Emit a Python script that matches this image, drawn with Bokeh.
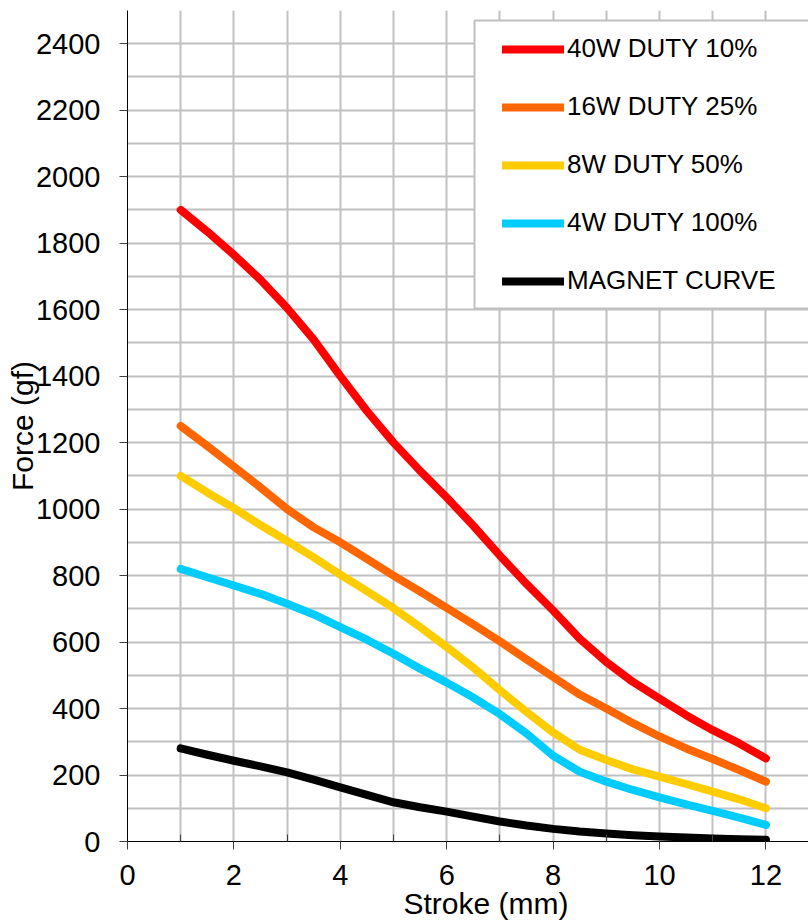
from bokeh.plotting import figure
from bokeh.models import (Range1d, FixedTicker, SingleIntervalTicker, Legend, LegendItem,
                          Title, BoxAnnotation)
from bokeh.embed import file_html
from bokeh.resources import INLINE

# ---- data ----
stroke_mm = [1, 1.5, 2, 2.5, 3, 3.5, 4, 4.5, 5, 5.5, 6, 6.5, 7, 7.5, 8, 8.5, 9, 9.5, 10, 10.5, 11, 11.5, 12]
force_40w_duty10 = [1900, 1835, 1765, 1690, 1605, 1510, 1400, 1295, 1200, 1115, 1035, 950, 860, 775, 695, 610, 540, 480, 430, 380, 335, 295, 250]
force_16w_duty25 = [1250, 1190, 1128, 1065, 1000, 945, 900, 850, 800, 752, 703, 653, 602, 548, 495, 442, 400, 356, 316, 280, 248, 215, 180]
force_8w_duty50 = [1100, 1050, 1003, 952, 904, 855, 803, 753, 702, 645, 585, 523, 455, 390, 328, 276, 245, 217, 195, 173, 150, 127, 100]
force_4w_duty100 = [820, 795, 770, 745, 715, 683, 645, 607, 565, 520, 478, 433, 383, 325, 258, 210, 180, 155, 133, 112, 92, 72, 50]
force_magnet = [280, 261, 243, 226, 208, 186, 163, 140, 118, 103, 90, 75, 60, 48, 38, 30, 24, 19, 15, 12, 9, 7, 5]

series_labels = ["40W DUTY 10%", "16W DUTY 25%", "8W DUTY 50%", "4W DUTY 100%", "MAGNET CURVE"]
series_values = [force_40w_duty10, force_16w_duty25, force_8w_duty50, force_4w_duty100, force_magnet]
series_colors = ["#FF0000", "#FF6600", "#FFCC00", "#00CCFF", "#000000"]

x_tick_values = [0, 2, 4, 6, 8, 10, 12]
x_minor_tick_values = [1, 3, 5, 7, 9, 11]
y_tick_values = [0, 200, 400, 600, 800, 1000, 1200, 1400, 1600, 1800, 2000, 2200, 2400]

x_title = "Stroke (mm)"
y_title = "Force (gf)"

FONT = "Liberation Sans"

p = figure(width=808, height=921,
           x_range=Range1d(0, 12.8), y_range=Range1d(0, 2500),
           output_backend="svg", toolbar_location=None,
           min_border_left=127, min_border_right=0, min_border_top=10, min_border_bottom=80,
           background_fill_color="white", border_fill_color="white")
p.outline_line_color = None

# grid
p.xgrid.ticker = SingleIntervalTicker(interval=1)
p.ygrid.ticker = SingleIntervalTicker(interval=100)
for g in (p.xgrid[0], p.ygrid[0]):
    g.grid_line_color = "#c0c0c0"
    g.grid_line_width = 2

# axes
for ax in (p.xaxis[0], p.yaxis[0]):
    ax.axis_line_color = "black"
    ax.axis_line_width = 1
    ax.major_tick_line_color = "#404040"
    ax.major_tick_line_width = 1
    ax.major_tick_out = 8
    ax.major_tick_in = 0
    ax.major_label_text_font = FONT
    ax.major_label_text_font_size = "29px"
    ax.major_label_text_color = "black"

p.xaxis.ticker = FixedTicker(ticks=x_tick_values, minor_ticks=x_minor_tick_values)
p.xaxis.minor_tick_in = 7
p.xaxis.minor_tick_out = 0
p.xaxis.minor_tick_line_color = "#404040"
p.xaxis.major_label_standoff = 15

p.yaxis.ticker = FixedTicker(ticks=y_tick_values)
p.yaxis.minor_tick_line_color = None
p.yaxis.major_label_standoff = 19
p.yaxis.axis_label = y_title
p.yaxis.axis_label_text_font = FONT
p.yaxis.axis_label_text_font_size = "30px"
p.yaxis.axis_label_text_font_style = "normal"
p.yaxis.axis_label_text_color = "black"
p.yaxis.axis_label_standoff = -6

p.add_layout(Title(text=x_title, align="left", offset=276, standoff=-6,
                   text_font=FONT, text_font_size="30px", text_font_style="normal",
                   text_color="black"), "below")

# series
items = []
for label, ys, color in zip(series_labels, series_values, series_colors):
    r = p.line(stroke_mm, ys, line_color=color, line_width=8,
               line_cap="round", line_join="round")
    items.append(LegendItem(label=label, renderers=[r]))

# legend frame (runs off the right edge of the picture, as in the original)
legend_frame = BoxAnnotation(left=347, right=700, top=821, bottom=533,
                             left_units="screen", right_units="screen",
                             top_units="screen", bottom_units="screen",
                             fill_color="white", fill_alpha=1.0,
                             line_color="#c0c0c0", line_width=2, line_alpha=1.0)
p.add_layout(legend_frame)

legend = Legend(items=items, location=(375, 545), padding=15, spacing=27, margin=0,
                glyph_width=62, glyph_height=30, label_standoff=3,
                label_text_font=FONT, label_text_font_size="26px", label_text_color="black",
                border_line_color=None, background_fill_alpha=0.0)
p.add_layout(legend)

open("out.html", "w").write(file_html(p, INLINE))
